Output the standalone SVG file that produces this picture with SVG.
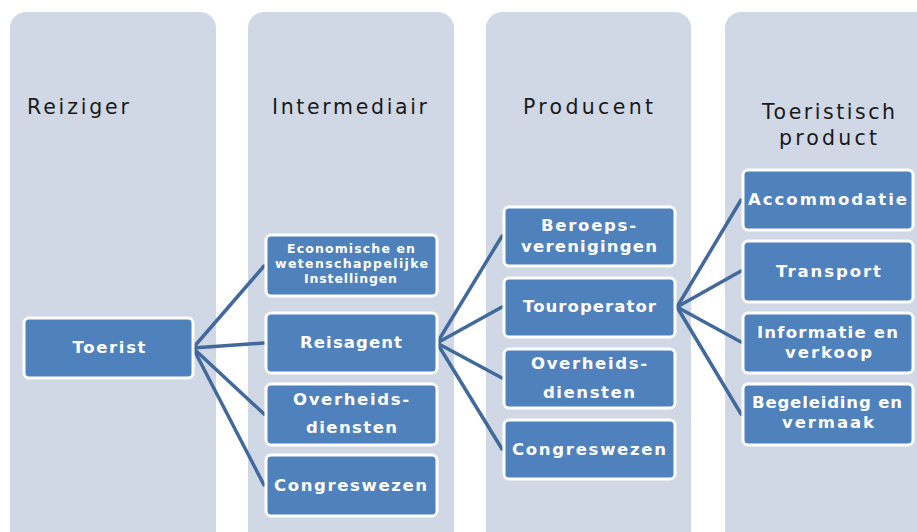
<svg xmlns="http://www.w3.org/2000/svg" width="917" height="532" viewBox="0 0 917 532">
<style>
.col{fill:#D0D7E5}
.hdr{font-family:"DejaVu Sans","Liberation Sans",sans-serif;font-size:20.5px;fill:#1a1a1a;text-anchor:middle}
.box{fill:#4F81BD;stroke:#FFFFFF;stroke-width:3}
.lbl{font-family:"DejaVu Sans","Liberation Sans",sans-serif;font-size:16.5px;font-weight:bold;fill:#FFFFFF;text-anchor:middle}
.sm{font-size:12.5px}
.con{stroke:#41699C;stroke-width:3.5;fill:none;stroke-linecap:round}
</style>
<rect width="917" height="532" fill="#FFFFFF"/>
<g id="columns">
<rect class="col" x="10" y="12" width="206" height="540" rx="16"/>
<rect class="col" x="248" y="12" width="206" height="540" rx="16"/>
<rect class="col" x="486" y="12" width="205" height="540" rx="16"/>
<rect class="col" x="725" y="12" width="206" height="540" rx="16"/>
<text class="hdr" x="78" y="114" textLength="102" lengthAdjust="spacing">Reiziger</text>
<text class="hdr" x="349.5" y="114" textLength="155" lengthAdjust="spacing">Intermediair</text>
<text class="hdr" x="588" y="114" textLength="130" lengthAdjust="spacing">Producent</text>
<text class="hdr" x="828.5" y="119" textLength="133" lengthAdjust="spacing">Toeristisch</text>
<text class="hdr" x="828" y="145" textLength="98" lengthAdjust="spacing">product</text>
</g>
<g id="connectors">
<line class="con" x1="193" y1="348" x2="264" y2="266"/>
<line class="con" x1="193" y1="348" x2="264" y2="343"/>
<line class="con" x1="193" y1="348" x2="264" y2="414"/>
<line class="con" x1="193" y1="348" x2="264" y2="485"/>
<line class="con" x1="437" y1="343" x2="502" y2="236"/>
<line class="con" x1="437" y1="343" x2="502" y2="307"/>
<line class="con" x1="437" y1="343" x2="502" y2="378"/>
<line class="con" x1="437" y1="343" x2="502" y2="449"/>
<line class="con" x1="677" y1="307" x2="741" y2="200"/>
<line class="con" x1="677" y1="307" x2="741" y2="271"/>
<line class="con" x1="677" y1="307" x2="741" y2="342"/>
<line class="con" x1="677" y1="307" x2="741" y2="414"/>
</g>
<g id="toerist"><rect class="box" x="24" y="318" width="169" height="60" rx="5"/><text class="lbl" x="109" y="353" textLength="73" lengthAdjust="spacing">Toerist</text></g>
<g id="economische"><rect class="box" x="266" y="235" width="171" height="61" rx="5"/><text class="lbl sm" x="351" y="253" textLength="128" lengthAdjust="spacing">Economische en</text><text class="lbl sm" x="351.5" y="268" textLength="153" lengthAdjust="spacing">wetenschappelijke</text><text class="lbl sm" x="350.5" y="283" textLength="93" lengthAdjust="spacing">Instellingen</text></g>
<g id="reisagent"><rect class="box" x="266" y="313" width="171" height="60" rx="5"/><text class="lbl" x="351" y="348" textLength="102" lengthAdjust="spacing">Reisagent</text></g>
<g id="overheids1"><rect class="box" x="266" y="384" width="171" height="61" rx="5"/><text class="lbl" x="351" y="405" textLength="116" lengthAdjust="spacing">Overheids-</text><text class="lbl" x="351.5" y="433" textLength="91" lengthAdjust="spacing">diensten</text></g>
<g id="congres1"><rect class="box" x="266" y="455" width="171" height="61" rx="5"/><text class="lbl" x="350.5" y="491" textLength="153" lengthAdjust="spacing">Congreswezen</text></g>
<g id="beroeps"><rect class="box" x="504" y="207" width="171" height="59" rx="5"/><text class="lbl" x="588.5" y="231" textLength="95" lengthAdjust="spacing">Beroeps-</text><text class="lbl" x="589" y="252" textLength="136" lengthAdjust="spacing">verenigingen</text></g>
<g id="touroperator"><rect class="box" x="504" y="278" width="171" height="59" rx="5"/><text class="lbl" x="589.5" y="312" textLength="133" lengthAdjust="spacing">Touroperator</text></g>
<g id="overheids2"><rect class="box" x="504" y="349" width="171" height="59" rx="5"/><text class="lbl" x="589" y="369" textLength="116" lengthAdjust="spacing">Overheids-</text><text class="lbl" x="589" y="398" textLength="92" lengthAdjust="spacing">diensten</text></g>
<g id="congres2"><rect class="box" x="504" y="420" width="171" height="59" rx="5"/><text class="lbl" x="589" y="455" textLength="154" lengthAdjust="spacing">Congreswezen</text></g>
<g id="accommodatie"><rect class="box" x="743" y="170" width="170" height="60" rx="5"/><text class="lbl" x="827.5" y="205" textLength="159" lengthAdjust="spacing">Accommodatie</text></g>
<g id="transport"><rect class="box" x="743" y="241" width="170" height="61" rx="5"/><text class="lbl" x="828.5" y="277" textLength="105" lengthAdjust="spacing">Transport</text></g>
<g id="informatie"><rect class="box" x="743" y="313" width="170" height="60" rx="5"/><text class="lbl" x="827.5" y="338" textLength="141" lengthAdjust="spacing">Informatie en</text><text class="lbl" x="828.5" y="358" textLength="87" lengthAdjust="spacing">verkoop</text></g>
<g id="begeleiding"><rect class="box" x="743" y="384" width="170" height="61" rx="5"/><text class="lbl" x="827" y="408" textLength="150" lengthAdjust="spacing">Begeleiding en</text><text class="lbl" x="828" y="428" textLength="92" lengthAdjust="spacing">vermaak</text></g>
</svg>
